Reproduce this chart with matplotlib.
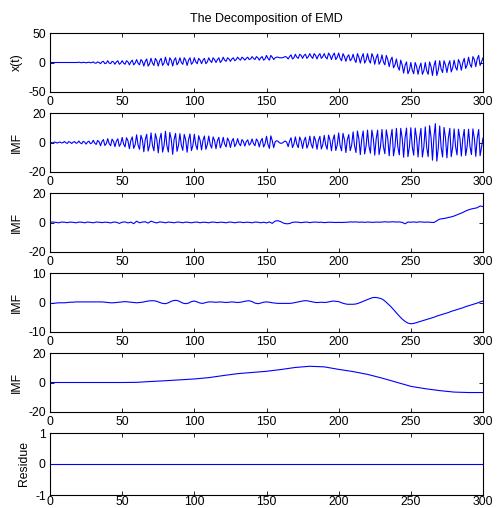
import numpy as np
import matplotlib
matplotlib.use('Agg')
import matplotlib.pyplot as plt

plt.rcParams['font.family'] = ['Liberation Sans', 'DejaVu Sans']
plt.rcParams['font.size'] = 8.8
plt.rcParams['axes.unicode_minus'] = False

# sample grids
t1 = np.arange(0, 301)          # every sample
t2 = np.arange(0, 301, 2)       # every 2nd sample
t10 = np.arange(0, 301, 10)     # every 10th sample
t50 = np.arange(0, 301, 50)

# original signal x(t)
x_sig = [
    0, 0, 0, 0, 0, 0, 0, 0, 0, 0,
    0, 0, 0, 0, 0, 0, 0, 0, 0, 0,
    0.5, 0, -0.5, 0.5, 0, -0.5, 0, 0.5, -0.5, 0,
    1, -1, -1, 1, 0, -2, 1, 2, -2, -1,
    3, -1, -2, 2, 1, -3, 1, 3, -3, -1,
    3, -1, -3, 3, 1, -4, 1, 4, -4, -1,
    5, -1, -4, 5, 2, -6, 2, 6, -6, -2,
    7, -1, -5, 7, 3, -6, 3, 7, -5, -1,
    9, -1, -5, 8, 4, -6, 4, 8, -4, 0,
    8, 0, -3, 8, 4, -5, 4, 8, -3, 0,
    8, 1, -2, 7, 4, -2, 4, 7, -2, 1,
    8, 3, 0, 8, 5, 0, 5, 8, 0, 3,
    9, 4, 2, 8, 6, 2, 6, 8, 3, 5,
    9, 6, 4, 9, 7, 4, 7, 9, 5, 6,
    10, 7, 5, 10, 8, 4, 8, 10, 4, 6,
    12, 7, 4, 12, 9, 5, 8, 9, 9, 8,
    8, 8, 9, 10, 9, 6, 10, 13, 6, 8,
    14, 9, 7, 14, 12, 7, 12, 14, 7, 10,
    15, 10, 7, 15, 12, 6, 12, 15, 7, 10,
    15, 9, 6, 16, 12, 5, 12, 16, 5, 9,
    16, 7, 3, 15, 10, 2, 10, 13, 3, 6,
    14, 5, 0, 15, 9, -1, 9, 15, -1, 4,
    15, 4, -1, 15, 9, -3, 8, 14, -3, 2,
    13, 1, -4, 12, 5, -7, 4, 9, -9, -4,
    6, -7, -13, 4, -4, -18, -5, 1, -19, -13,
    0, -13, -19, 0, -7, -20, -8, -1, -20, -14,
    0, -14, -20, 1, -7, -22, -6, 3, -22, -13,
    3, -11, -17, 3, -4, -17, -4, 3, -16, -9,
    4, -8, -13, 5, -1, -13, 0, 7, -10, -4,
    9, -3, -8, 10, 5, -7, 6, 12, -5, 1,
    8,
]

# IMF 1 (fast oscillation)
imf1 = [
    0.4, -0.1, -0.3, 0.3, 0.1, -0.4, 0.1, 0.3, -0.3, -0.1,
    0.7, -0.2, -0.6, 0.6, 0.2, -0.7, 0.2, 0.6, -0.5, -0.2,
    1.0, -0.3, -0.8, 0.8, 0.3, -1.1, 0.3, 0.9, -0.8, -0.3,
    1.5, -0.5, -1.3, 1.4, 0.5, -2.2, 0.7, 2.0, -2.0, -0.8,
    2.6, -0.8, -2.2, 2.3, 0.8, -2.8, 0.9, 2.5, -2.6, -0.9,
    3.4, -1.0, -3.0, 3.2, 1.2, -4.2, 1.3, 3.8, -4.0, -1.4,
    5.2, -1.6, -4.6, 4.9, 1.9, -6.3, 2.0, 5.6, -5.8, -2.0,
    6.5, -2.0, -5.6, 6.0, 2.0, -7.0, 2.2, 6.3, -6.5, -2.1,
    7.6, -2.3, -6.4, 6.8, 2.2, -8.0, 2.1, 6.2, -6.0, -2.0,
    6.0, -1.8, -5.3, 5.5, 1.8, -6.6, 2.0, 5.8, -5.5, -1.9,
    5.6, -1.6, -4.8, 4.6, 1.5, -5.0, 1.5, 4.4, -4.6, -1.4,
    4.4, -1.3, -3.8, 3.8, 1.3, -4.2, 1.2, 3.5, -3.6, -1.2,
    3.5, -1.0, -3.0, 3.0, 1.0, -3.4, 0.9, 2.7, -2.8, -0.9,
    2.6, -0.8, -2.2, 2.0, 0.7, -2.4, 0.6, 1.8, -1.8, -0.6,
    2.4, -0.7, -2.2, 2.4, 0.9, -3.0, 0.9, 2.8, -3.0, -0.9,
    4.2, -1.3, -4.0, 4.5, 1.2, -3.5, 0.5, 1.2, 0.8, -0.2,
    -0.6, -0.3, 0.4, 1.0, 0.2, -2.8, 1.0, 3.2, -3.4, -1.1,
    3.8, -1.2, -3.5, 3.7, 1.2, -4.0, 1.2, 3.6, -3.8, -1.2,
    4.3, -1.3, -3.8, 4.2, 1.4, -4.6, 1.4, 4.2, -4.4, -1.4,
    4.8, -1.5, -4.6, 5.0, 1.6, -5.6, 1.7, 5.2, -5.4, -1.7,
    6.5, -2.0, -5.6, 6.2, 2.0, -6.8, 1.9, 5.4, -5.5, -1.8,
    7.2, -2.3, -6.8, 7.8, 2.5, -8.2, 2.5, 7.8, -7.8, -2.4,
    8.4, -2.6, -7.2, 8.4, 2.6, -8.6, 2.6, 8.4, -8.2, -2.5,
    8.8, -2.7, -7.6, 8.6, 2.8, -9.0, 2.8, 8.9, -9.0, -2.8,
    9.6, -3.0, -8.4, 9.6, 3.1, -10.0, 3.0, 9.8, -9.6, -3.0,
    10.0, -3.1, -8.6, 9.8, 3.0, -9.8, 2.9, 9.6, -9.8, -3.1,
    10.6, -3.4, -9.6, 11.4, 3.6, -12.0, 3.8, 12.8, -12.6, -3.8,
    11.2, -3.4, -9.8, 10.2, 3.2, -10.4, 3.1, 9.6, -9.6, -3.0,
    9.2, -2.8, -8.4, 9.0, 2.8, -9.2, 2.7, 8.8, -8.8, -2.7,
    9.0, -2.8, -8.2, 9.2, 2.9, -9.4, 2.8, 8.8, -9.0, -2.8,
    3.0,
]

# IMF 2 (every 2nd sample)
imf2 = [
    0.2, 0.3, 0.1, -0.2, 0.3, 0.2, -0.1, 0.3, 0.1, -0.2,
    0.3, 0.2, -0.2, 0.3, 0.1, -0.2, 0.3, 0.2, -0.1, 0.2,
    0.1, -0.3, 0.3, 0.2, -0.6, 0.2, 0.4, -0.3, 0.3, -0.8,
    0.9, -0.2, 0.3, 0.5, -0.4, 0.9, 0.2, -0.3, 0.4, 0.2,
    -0.2, 0.3, 0.1, -0.2, 0.3, 0.2, -0.2, 0.3, 0.1, -0.2,
    0.2, 0.3, -0.2, 0.2, 0.1, -0.2, 0.3, 0.2, -0.1, 0.2,
    0.1, -0.2, 0.3, 0.2, -0.2, 0.2, 0.3, -0.1, 0.2, 0.1,
    -0.2, 0.3, 0.2, -0.2, 0.2, -0.3, 0.4, -0.6, 1.0, 1.2,
    0.5, -0.5, -0.9, -0.7, 0.1, 0.3, 0.2, -0.1, 0.2, 0.3,
    -0.1, 0.2, 0.3, 0.1, 0.2, -0.1, 0.1, 0.2, 0.1, 0.0,
    0.1, 0.0, 0.1, 0.2, 0.4, 0.3, 0.4, 0.2, 0.3, 0.1,
    0.3, 0.2, 0.1, 0.3, 0.2, 0.3, 0.5, 0.3, 0.4, 0.5,
    0.3, 0.4, 0.1, -0.9, 0.3, 0.2, 0.4, 0.1, 0.5, 0.3,
    0.2, 0.3, 0.1, 0.0, 1.2, 2.3, 2.6, 2.9, 3.4, 3.8,
    4.4, 5.2, 6.0, 6.8, 7.8, 8.6, 9.2, 9.6, 10.0, 11.2,
    10.8,
]

# IMF 3 (every 2nd sample)
imf3 = [
    -0.4, -0.3, -0.2, -0.1, -0.1, -0.1, 0.0, 0.1, 0.1, 0.2,
    0.2, 0.2, 0.2, 0.2, 0.2, 0.2, 0.2, 0.2, 0.2, 0.1,
    0.0, -0.1, -0.1, 0.0, 0.1, 0.2, 0.3, 0.2, 0.1, 0.0,
    -0.1, 0.0, 0.1, 0.3, 0.5, 0.6, 0.6, 0.4, 0.0, -0.3,
    -0.4, -0.1, 0.4, 0.7, 0.7, 0.3, -0.2, -0.4, -0.2, 0.3,
    0.5, 0.2, -0.2, -0.3, 0.0, 0.2, 0.2, 0.1, 0.1, 0.2,
    0.1, 0.0, 0.1, 0.2, 0.1, 0.0, 0.1, 0.3, 0.5, 0.6,
    0.3, -0.2, -0.4, -0.2, 0.1, 0.2, 0.1, -0.1, -0.2, -0.3,
    -0.3, -0.3, -0.3, -0.3, -0.2, 0.0, 0.2, 0.4, 0.6, 0.6,
    0.4, 0.2, 0.0, 0.0, 0.1, 0.0, 0.1, 0.3, 0.5, 0.4,
    0.3, -0.1, -0.4, -0.6, -0.6, -0.6, -0.5, -0.2, 0.2, 0.6,
    1.0, 1.4, 1.7, 1.7, 1.5, 1.2, 0.5, -0.4, -1.3, -2.4,
    -3.5, -4.6, -5.6, -6.4, -7.0, -7.2, -7.1, -6.8, -6.5, -6.2,
    -5.9, -5.6, -5.3, -5.0, -4.6, -4.3, -4.0, -3.7, -3.4, -3.0,
    -2.7, -2.4, -2.1, -1.8, -1.4, -1.1, -0.8, -0.5, -0.2, 0.2,
    0.5,
]

# IMF 4 (every 10th sample)
imf4 = [0, 0, 0, 0, 0, 0, 0.1, 0.7, 1.2, 1.8, 2.4, 3.3, 4.7, 6.0, 6.8, 7.6,
        8.8, 10.2, 11.0, 10.6, 8.9, 7.4, 5.5, 3.0, 0.2, -2.6, -4.2, -5.5,
        -6.5, -6.8, -6.8]

residue = [0, 0, 0, 0, 0, 0, 0]

panels = [
    (t1, x_sig, 'x(t)', 50),
    (t1, imf1, 'IMF', 20),
    (t2, imf2, 'IMF', 20),
    (t2, imf3, 'IMF', 10),
    (t10, imf4, 'IMF', 20),
    (t50, residue, 'Residue', 1),
]

W, H = 497, 508
fig = plt.figure(figsize=(W / 100, H / 100), dpi=100)

tops = [33, 113, 193, 273, 353, 433]
heights = [59, 59, 59, 59, 59, 62]

for i, (t, y, lab, lim) in enumerate(panels):
    top, h = tops[i], heights[i]
    ax = fig.add_axes([50 / W, 1 - (top + h) / H, 433 / W, h / H])
    ax.plot(t, y, color='#0000ff', linewidth=0.8)
    ax.set_xlim(0, 300)
    ax.set_ylim(-lim, lim)
    ax.set_xticks(np.arange(0, 301, 50))
    ax.set_yticks([-lim, 0, lim])
    ax.set_ylabel(lab)
    ax.tick_params(direction='in', top=True, right=True, length=3, width=0.6, pad=3)
    if i == 5:
        ax.tick_params(axis='x', pad=1)
    for s in ax.spines.values():
        s.set_linewidth(0.8)
    if i == 0:
        ax.set_title('The Decomposition of EMD', fontsize=9, pad=8)

fig.savefig('out.png', dpi=100)
